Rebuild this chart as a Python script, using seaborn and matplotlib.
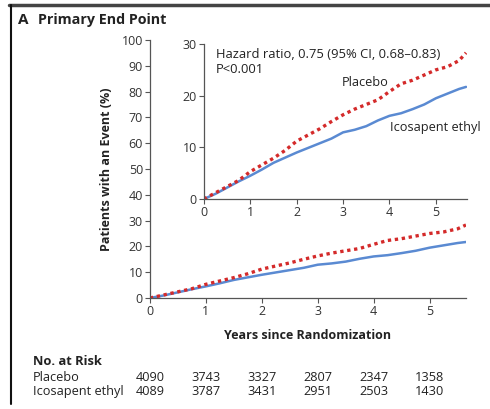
import numpy as np
import pandas as pd
import matplotlib
matplotlib.use("Agg")
import matplotlib.pyplot as plt
import matplotlib.transforms as mtransforms
import seaborn as sns

# valores
years = [0, 0.25, 0.5, 0.75, 1, 1.25, 1.5, 1.75, 2, 2.25, 2.5, 2.75, 3,
         3.25, 3.5, 3.75, 4, 4.25, 4.5, 4.75, 5, 5.25, 5.5, 5.65]
placebo = [0, 1.2, 2.4, 3.6, 5.3, 6.6, 7.9, 9.4, 11.2, 12.4, 13.6, 15.0, 16.3,
           17.4, 18.3, 19.2, 20.8, 22.3, 23.0, 24.0, 25.0, 25.6, 26.8, 28.3]
icosapent = [0, 1.0, 2.2, 3.4, 4.5, 5.7, 7.0, 8.0, 9.0, 9.9, 10.8, 11.7, 12.9,
             13.4, 14.1, 15.2, 16.1, 16.6, 17.4, 18.3, 19.5, 20.4, 21.3, 21.7]

risk_years = [0, 1, 2, 3, 4, 5]
risk_placebo = [4090, 3743, 3327, 2807, 2347, 1358]
risk_icosapent = [4089, 3787, 3431, 2951, 2503, 1430]

df = pd.DataFrame({
    "years": years * 2,
    "pct": placebo + icosapent,
    "arm": ["Placebo"] * len(years) + ["Icosapent ethyl"] * len(years),
})

sns.set_style("ticks")
plt.rcParams["font.family"] = ["Open Sans", "DejaVu Sans"]
plt.rcParams["axes.edgecolor"] = "#555555"
plt.rcParams["xtick.color"] = "#555555"
plt.rcParams["ytick.color"] = "#555555"
plt.rcParams["xtick.labelcolor"] = "#333333"
plt.rcParams["ytick.labelcolor"] = "#333333"

RED = "#d42a2a"
BLUE = "#5a8ad2"
TXT = "#222222"


def drawCurves(ax):
    sns.lineplot(data=df[df.arm == "Icosapent ethyl"], x="years", y="pct",
                 color=BLUE, lw=1.8, ax=ax, legend=False)
    sns.lineplot(data=df[df.arm == "Placebo"], x="years", y="pct",
                 color=RED, lw=2.4, ax=ax, legend=False,
                 linestyle=(0, (1.0, 1.1)))
    sns.despine(ax=ax)
    ax.set_xlabel("")
    ax.set_ylabel("")
    ax.tick_params(length=3.5, width=0.8, labelsize=9, pad=1.5)
    for s in ["left", "bottom"]:
        ax.spines[s].set_linewidth(0.9)


fig = plt.figure(figsize=(4.9, 4.09), dpi=100)

# eje principal
ax = fig.add_axes([0.306, 0.2714, 0.645, 0.631])
drawCurves(ax)
ax.set_xlim(0, 5.65)
ax.set_ylim(0, 100)
ax.set_xticks(risk_years)
ax.set_yticks(range(0, 101, 10))
ax.set_xlabel("Years since Randomization", fontsize=9, fontweight="bold",
              color=TXT, labelpad=8)
ax.set_ylabel("Patients with an Event (%)", fontsize=9, fontweight="bold",
              color=TXT, labelpad=6)

# recuadro ampliado
axin = fig.add_axes([0.416, 0.5134, 0.537, 0.379])
drawCurves(axin)
axin.set_xlim(0, 5.67)
axin.set_ylim(0, 30)
axin.set_xticks(risk_years)
axin.set_yticks([0, 10, 20, 30])
axin.patch.set_alpha(0)
axin.text(0.045, 0.885, "Hazard ratio, 0.75 (95% CI, 0.68\u20130.83)\nP<0.001",
          transform=axin.transAxes, fontsize=9.4, color=TXT, va="center",
          linespacing=1.2)
axin.text(2.98, 22.6, "Placebo", fontsize=9.2, color=TXT, va="center")
axin.text(4.02, 13.8, "Icosapent ethyl", fontsize=9.2, color=TXT, va="center")

# titulo del panel
fig.text(0.036, 0.95, "A", fontsize=11, fontweight="bold", color=TXT,
         va="center")
fig.text(0.077, 0.95, "Primary End Point", fontsize=10.3, fontweight="bold",
         color=TXT, va="center")

# tabla de pacientes en riesgo
fig.text(0.067, 0.117, "No. at Risk", fontsize=9.3, fontweight="bold",
         color=TXT, va="center")
fig.text(0.067, 0.078, "Placebo", fontsize=9.2, color=TXT, va="center")
fig.text(0.067, 0.044, "Icosapent ethyl", fontsize=9.2, color=TXT, va="center")
trans = mtransforms.blended_transform_factory(ax.transData, fig.transFigure)
for x, a, b in zip(risk_years, risk_placebo, risk_icosapent):
    ax.text(x, 0.078, str(a), transform=trans, fontsize=9.2, color=TXT,
            ha="center", va="center")
    ax.text(x, 0.044, str(b), transform=trans, fontsize=9.2, color=TXT,
            ha="center", va="center")

# marco de la figura
fig.add_artist(plt.Line2D([0.018, 1.0], [0.988, 0.988], color="#444444",
                          lw=2.5, transform=fig.transFigure))
fig.add_artist(plt.Line2D([0.022, 0.022], [0.012, 0.988], color="#111111",
                          lw=1.5, transform=fig.transFigure))

fig.savefig("out.png", dpi=100)
plt.close(fig)
